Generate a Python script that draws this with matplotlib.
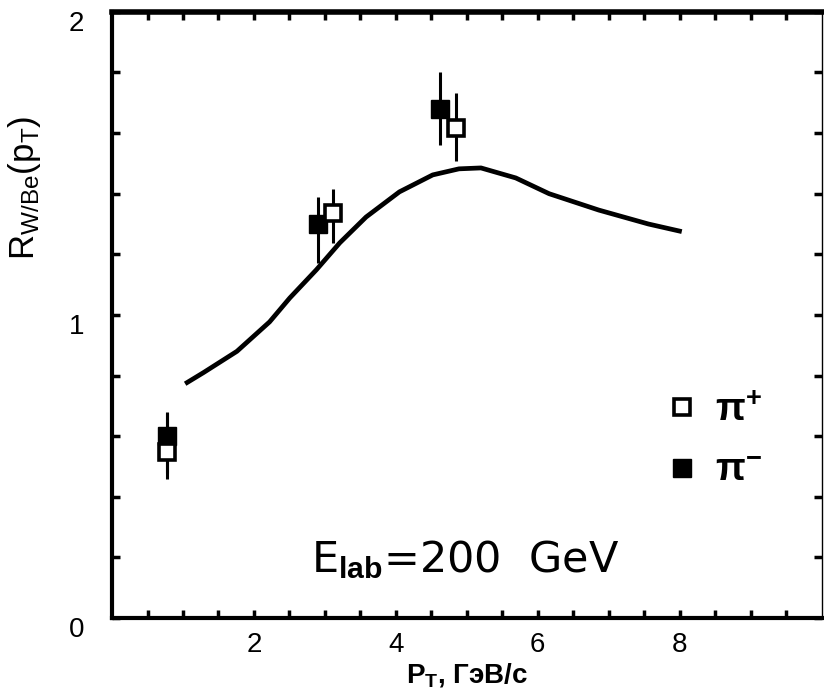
import matplotlib
matplotlib.use("Agg")
import matplotlib.pyplot as plt
import numpy as np
from matplotlib.lines import Line2D
from matplotlib.transforms import ScaledTranslation

plt.rcParams['font.family'] = ['Liberation Sans', 'DejaVu Sans']
plt.rcParams['mathtext.fontset'] = 'custom'
plt.rcParams['mathtext.rm'] = 'Liberation Sans'
plt.rcParams['mathtext.bf'] = 'Liberation Sans:bold'
plt.rcParams['mathtext.it'] = 'Liberation Sans:italic'

# theory curve
curve_x = [1.03, 1.29, 1.76, 2.22, 2.505, 2.88, 3.21, 3.58, 4.05, 4.52, 4.89, 5.2,
           5.69, 6.16, 6.86, 7.56, 8.03]
curve_y = [0.773, 0.81, 0.88, 0.977, 1.056, 1.149, 1.238, 1.323, 1.406, 1.462, 1.482,
           1.485, 1.452, 1.40, 1.346, 1.30, 1.275]

# pi- (filled)
pim_x = [0.78, 2.90, 4.62]
pim_y = [0.60, 1.30, 1.68]
pim_err_lo = [0.12, 0.13, 0.12]
pim_err_hi = [0.08, 0.09, 0.12]

# pi+ (open)
pip_x = [0.78, 3.11, 4.85]
pip_y = [0.548, 1.337, 1.617]
pip_err_lo = [0.09, 0.10, 0.11]
pip_err_hi = [0.13, 0.08, 0.115]

legend_labels = [r'$\mathbf{\pi}^{\mathbf{+}}$', r'$\mathbf{\pi}^{\mathbf{-}}$']
x_labeled = [2, 4, 6, 8]
y_labeled = [0, 1, 2]

fig = plt.figure(figsize=(8.24, 6.96), dpi=100)
ax = fig.add_axes([0.136, 0.112, 0.861, 0.871])

ax.plot(curve_x, curve_y, color='black', lw=3.4, solid_capstyle='butt',
        solid_joinstyle='round', zorder=2)

ax.errorbar(pim_x, pim_y, yerr=[pim_err_lo, pim_err_hi], fmt='s', color='black',
            ms=13, mfc='black', mec='black', elinewidth=2.2, capsize=0, zorder=3)
ax.errorbar(pip_x, pip_y, yerr=[pip_err_lo, pip_err_hi], fmt='s', color='black',
            ms=11, mfc='white', mec='black', mew=2.6, elinewidth=2.2, capsize=0, zorder=4)

ax.set_xlim(0, 10)
ax.set_ylim(0, 2)

xt = np.arange(0.5, 10.0, 0.5)
ax.set_xticks(xt)
ax.set_xticklabels([str(int(v)) if any(abs(v - k) < 1e-6 for k in x_labeled) else '' for v in xt])
yt = np.round(np.arange(0.0, 2.01, 0.2), 6)
ax.set_yticks(yt)
ax.set_yticklabels([str(int(round(v))) if any(abs(v - k) < 1e-6 for k in y_labeled) else '' for v in yt])

ax.tick_params(axis='both', direction='in', length=6, width=2.5, labelsize=20,
               top=True, right=True)
ax.tick_params(axis='x', pad=10)
ax.tick_params(axis='y', pad=20)

off = ScaledTranslation(0, -9 / 100, fig.dpi_scale_trans)
for lab in ax.get_yticklabels():
    lab.set_transform(lab.get_transform() + off)

for s in ['left', 'bottom']:
    ax.spines[s].set_linewidth(3)
ax.spines['top'].set_linewidth(4)
ax.spines['right'].set_linewidth(1)

ax.set_xlabel(r'P$_{\mathbf{T}}$, ГэВ/с', fontsize=20, fontweight='bold', labelpad=2)
ax.set_ylabel(r'R$_{\mathrm{W/Be}}$(p$_{\mathrm{T}}$)', fontsize=25, labelpad=18)
ax.yaxis.set_label_coords(-0.097, 0.71)

ax.text(0.28, 0.075, r'E$_{\mathbf{lab}}$=200  GeV', transform=ax.transAxes,
        fontsize=31, ha='left', va='baseline', family=['DejaVu Sans'])

h1 = Line2D([], [], ls='none', marker='s', ms=11, mfc='white', mec='black', mew=2.6)
h2 = Line2D([], [], ls='none', marker='s', ms=13, mfc='black', mec='black')
ax.legend([h1, h2], legend_labels,
          loc='center left', bbox_to_anchor=(0.781, 0.292), frameon=False,
          fontsize=28, handlelength=0.8, handletextpad=0.45, labelspacing=0.63,
          borderaxespad=0, borderpad=0)

fig.savefig('out.png', dpi=100)
